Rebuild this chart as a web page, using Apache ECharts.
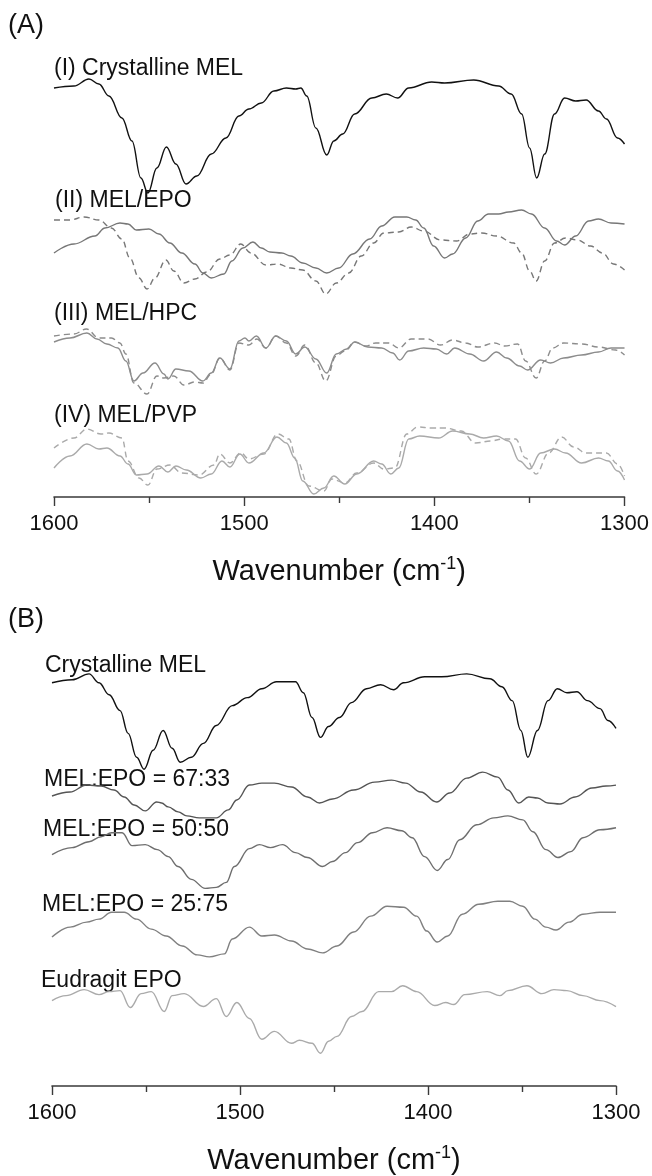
<!DOCTYPE html>
<html>
<head>
<meta charset="utf-8">
<script src="https://cdn.jsdelivr.net/npm/echarts@6/dist/echarts.min.js"></script>
<style>
html,body{margin:0;padding:0;background:#fff;}
#chart{width:652px;height:1176px;}
</style>
</head>
<body>
<div id="chart"></div>
<script>
// Wavenumber axis ticks
const xTicks = [1600, 1500, 1400, 1300];

// ---- Panel A (arbitrary offset intensity units) ----
const crystA = [[1600,409],[1589.5,411],[1581.6,418],[1576.4,413],[1571.1,401],[1564.3,379],[1559.0,356],[1554.3,319],[1550.6,304],[1545.9,329],[1540.9,350],[1535.9,333],[1530.6,313],[1524.9,321],[1517.3,343],[1509.6,359],[1502.8,381],[1497.5,388],[1491.0,394],[1484.4,406],[1477.8,409],[1472.9,408],[1470.2,409],[1467.1,401],[1462.3,369],[1456.6,342],[1452.9,356],[1448.2,363],[1441.9,383],[1432.9,399],[1425.3,403],[1419.3,399],[1413.5,409],[1401.4,415],[1394.6,414],[1379.3,417],[1366.2,411],[1359.6,403],[1354.1,383],[1349.9,349],[1346.2,319],[1342.0,343],[1336.8,383],[1331.5,399],[1325.7,396],[1320.2,397],[1313.7,386],[1309.5,378],[1303.7,359],[1300,353]];

const epoA = [[1600,244],[1589.5,253],[1578.5,261],[1573.2,269],[1565.3,274],[1561.1,273],[1556.7,267],[1550.1,268],[1544.8,263],[1539.1,254],[1532.8,244],[1525.9,233],[1521.7,224],[1517.3,219],[1510.7,223],[1506.5,236],[1500.7,249],[1495.4,255],[1491.0,249],[1486.5,245],[1480.2,244],[1475.5,241],[1469.2,234],[1462.3,229],[1456.6,224],[1450.3,229],[1442.9,243],[1434.0,258],[1427.7,271],[1420.8,280],[1414.5,280],[1409.8,277],[1405.6,269],[1400.4,251],[1394.6,239],[1390.4,243],[1383.5,259],[1377.2,276],[1371.5,283],[1366.2,283],[1361.0,285],[1354.1,287],[1348.9,283],[1342.0,269],[1335.7,256],[1331.5,252],[1325.7,261],[1318.9,276],[1313.7,278],[1307.1,274],[1300,273]];

const epoRefA = [[1600,277],[1591.6,277],[1584.2,280],[1576.4,277],[1569.8,269],[1564.3,258],[1560.1,239],[1555.3,219],[1551.1,208],[1546.9,219],[1541.2,237],[1537.0,226],[1531.7,214],[1525.9,218],[1519.6,225],[1512.8,238],[1507.5,242],[1501.8,253],[1496.5,244],[1488.6,232],[1482.3,233],[1475.5,229],[1469.2,227],[1462.3,216],[1457.1,203],[1451.6,214],[1445.0,224],[1438.4,241],[1431.9,254],[1426.6,264],[1418.7,265],[1412.2,270],[1405.6,266],[1396.7,257],[1388.3,256],[1381.4,263],[1375.1,264],[1367.3,261],[1358.3,254],[1354.1,244],[1349.9,226],[1346.5,216],[1342.0,236],[1336.8,254],[1331.0,259],[1324.7,257],[1317.9,251],[1311.6,244],[1305.8,233],[1300,227]];

const hpcA = [[1600,155],[1591.6,159],[1582.7,164],[1577.4,158],[1572.2,153],[1566.4,149],[1562.2,136],[1558.0,116],[1553.2,124],[1546.9,134],[1542.2,123],[1540.1,118],[1535.9,128],[1529.1,126],[1521.7,116],[1517.3,124],[1512.8,139],[1507.5,128],[1502.8,156],[1499.6,159],[1497.5,156],[1493.6,161],[1488.6,149],[1483.4,161],[1477.8,156],[1472.9,143],[1468.1,150],[1462.3,138],[1456.6,124],[1451.6,143],[1446.1,148],[1441.9,155],[1435.0,150],[1427.7,149],[1421.9,144],[1418.2,137],[1413.5,146],[1405.6,149],[1399.0,148],[1393.5,143],[1389.3,149],[1381.4,143],[1374.1,136],[1367.3,145],[1362.0,139],[1355.2,131],[1351.0,127],[1344.1,137],[1338.9,134],[1332.0,139],[1322.6,142],[1313.7,145],[1307.1,149],[1300,149]];

const hpcRefA = [[1600,161],[1589.5,163],[1582.9,168],[1576.4,159],[1569.8,159],[1565.3,154],[1562.2,143],[1558.0,114],[1551.1,103],[1545.9,121],[1542.2,119],[1537.0,121],[1531.7,112],[1525.9,115],[1521.7,114],[1517.3,123],[1512.8,139],[1507.5,127],[1502.8,154],[1497.5,152],[1493.3,158],[1488.6,149],[1483.4,161],[1477.8,154],[1472.9,141],[1468.1,152],[1462.3,134],[1457.1,116],[1451.6,141],[1447.1,146],[1441.9,155],[1436.1,151],[1430.8,154],[1424.0,154],[1418.7,149],[1412.2,158],[1403.5,158],[1396.7,152],[1390.4,157],[1383.5,154],[1377.2,150],[1368.3,154],[1363.1,151],[1356.2,153],[1352.0,136],[1346.5,119],[1342.0,136],[1337.8,149],[1332.0,154],[1322.6,153],[1313.7,150],[1304.7,147],[1300,142]];

const pvpA = [[1600,29],[1591.6,41],[1582.7,53],[1576.4,48],[1572.2,49],[1565.3,41],[1561.1,33],[1556.7,22],[1551.1,23],[1544.8,31],[1540.1,25],[1535.9,31],[1530.4,27],[1522.8,19],[1517.3,23],[1511.7,36],[1507.5,30],[1502.3,43],[1497.5,34],[1489.7,44],[1482.8,60],[1477.8,54],[1473.4,39],[1469.2,16],[1463.4,3],[1458.1,9],[1452.9,21],[1447.1,13],[1440.8,23],[1431.9,36],[1427.7,33],[1422.9,23],[1418.7,29],[1413.5,58],[1407.7,61],[1397.7,59],[1390.4,66],[1381.4,63],[1374.1,59],[1367.3,61],[1361.0,56],[1355.2,36],[1349.9,28],[1344.1,44],[1336.8,48],[1331.0,44],[1322.6,34],[1313.7,39],[1308.5,36],[1303.7,26],[1300,17]];

const pvpRefA = [[1600,49],[1589.5,59],[1582.7,68],[1575.3,63],[1571.1,64],[1564.3,59],[1561.1,36],[1555.3,19],[1550.6,12],[1545.9,28],[1539.1,32],[1532.8,24],[1523.8,22],[1515.9,32],[1512.8,43],[1507.5,34],[1501.8,44],[1497.5,38],[1489.7,43],[1482.3,63],[1476.5,58],[1472.3,36],[1466.0,11],[1458.1,6],[1453.9,18],[1447.1,14],[1440.8,24],[1431.9,34],[1426.6,28],[1420.8,29],[1414.5,63],[1408.8,70],[1401.4,69],[1394.6,69],[1385.9,66],[1378.3,54],[1370.4,56],[1364.1,58],[1357.3,58],[1352.0,39],[1346.5,23],[1339.9,44],[1333.1,60],[1326.8,50],[1320.2,44],[1309.5,44],[1303.7,33],[1300,21]];

// ---- Panel B ----
const crystB = [[1600,406],[1589.3,409],[1580.3,415],[1575.0,406],[1569.6,394],[1563.8,378],[1559.5,355],[1555.0,331],[1551.0,319],[1546.2,338],[1540.9,358],[1536.1,340],[1531.8,326],[1525.9,331],[1519.5,345],[1512.6,363],[1504.1,383],[1496.1,391],[1488.4,400],[1480.6,407],[1475.0,407],[1470.5,407],[1466.3,396],[1461.7,371],[1457.2,351],[1452.9,362],[1447.1,371],[1440.7,386],[1432.7,400],[1425.2,404],[1418.3,399],[1413.0,406],[1401.8,412],[1392.7,412],[1379.4,415],[1367.1,410],[1360.7,402],[1355.2,388],[1350.6,358],[1346.9,331],[1341.8,358],[1336.2,388],[1331.2,400],[1326.1,396],[1320.8,397],[1315.2,388],[1308.5,380],[1304.3,368],[1300,360]];

const mix6733 = [[1600,292],[1590.4,296],[1581.6,303],[1573.9,302],[1567.0,298],[1561.6,291],[1556.3,283],[1550.4,277],[1544.3,286],[1541.7,285],[1538.2,281],[1532.9,276],[1528.3,272],[1521.7,270],[1512.6,270],[1506.2,278],[1501.7,288],[1495.0,303],[1488.4,305],[1481.7,305],[1472.6,301],[1464.1,291],[1457.7,285],[1450.8,289],[1439.6,298],[1428.4,306],[1419.4,308],[1411.9,305],[1403.9,296],[1395.4,286],[1388.5,295],[1379.4,310],[1370.9,316],[1362.9,311],[1357.5,298],[1351.7,285],[1346.4,291],[1341.8,290],[1336.2,285],[1329.8,284],[1321.8,291],[1312.8,300],[1305.3,302],[1300,303]];

const mix5050 = [[1600,233],[1589.3,240],[1580.3,246],[1573.9,251],[1568.3,255],[1562.7,255],[1557.4,242],[1550.4,243],[1544.0,238],[1538.2,231],[1532.9,221],[1525.9,208],[1518.5,199],[1512.6,200],[1507.3,205],[1503.0,221],[1495.0,239],[1489.7,243],[1483.8,240],[1477.4,243],[1470.5,235],[1464.1,230],[1456.1,221],[1450.8,226],[1443.9,235],[1437.5,245],[1429.5,255],[1421.8,260],[1414.0,257],[1408.4,250],[1401.8,231],[1395.1,217],[1389.5,228],[1383.1,248],[1374.1,263],[1365.0,270],[1357.5,272],[1349.6,268],[1344.2,256],[1337.3,238],[1330.9,230],[1324.0,236],[1317.6,250],[1308.5,258],[1300,260]];

const mix2575 = [[1600,150],[1590.4,160],[1581.6,165],[1575.0,168],[1568.3,175],[1561.6,175],[1555.0,168],[1547.2,158],[1539.3,151],[1530.7,141],[1522.7,132],[1516.3,130],[1508.3,133],[1504.1,148],[1495.0,160],[1488.4,151],[1481.7,152],[1472.6,146],[1464.1,138],[1456.1,134],[1448.4,141],[1439.6,155],[1430.5,171],[1421.8,181],[1413.0,180],[1406.0,171],[1400.7,156],[1395.1,145],[1389.5,151],[1381.8,173],[1373.0,183],[1362.9,186],[1356.5,186],[1349.6,181],[1343.2,168],[1337.3,160],[1331.9,157],[1325.0,165],[1317.6,173],[1308.5,175],[1300,175]];

const eudB = [[1600,86],[1592.5,91],[1582.9,97],[1575.0,92],[1569.6,95],[1563.8,96],[1558.4,79],[1552.6,93],[1547.2,95],[1540.3,75],[1536.1,91],[1529.7,93],[1519.5,80],[1512.6,88],[1507.3,70],[1501.7,84],[1495.0,68],[1488.4,47],[1481.7,55],[1472.6,43],[1468.4,46],[1461.7,43],[1457.2,33],[1452.9,45],[1448.4,50],[1440.7,70],[1435.1,75],[1426.3,95],[1419.4,95],[1413.5,101],[1406.0,95],[1396.4,81],[1390.6,84],[1386.3,82],[1380.5,92],[1368.5,95],[1361.8,91],[1357.5,96],[1347.4,101],[1339.4,93],[1333.0,97],[1326.1,96],[1317.6,91],[1308.5,86],[1300,80]];

const FONT = '"Liberation Sans", Arial, sans-serif';

function xAxisCfg(gridIndex) {
  return {
    type: 'value', gridIndex: gridIndex, inverse: true,
    min: 1300, max: 1600, interval: 100,
    axisLine: { show: true, lineStyle: { color: '#3a3a3a', width: 1.6 } },
    axisTick: { show: true, length: 9, lineStyle: { color: '#3a3a3a', width: 1.4 } },
    minorTick: { show: true, splitNumber: 2, length: 6, lineStyle: { color: '#3a3a3a', width: 1.4 } },
    splitLine: { show: false },
    axisLabel: { fontSize: 22, fontFamily: FONT, color: '#111', margin: 16,
      formatter: function (v) { return xTicks.indexOf(v) >= 0 ? String(v) : ''; } },
    name: 'Wavenumber (cm{sup|-1})',
    nameLocation: 'middle', nameGap: 58,
    nameTextStyle: { fontSize: 29, fontFamily: FONT, color: '#111',
      rich: { sup: { fontSize: 18, fontFamily: FONT, color: '#111', verticalAlign: 'top', padding: [0, 0, 15, 0] } } }
  };
}
function yAxisCfg(gridIndex) {
  return { type: 'value', gridIndex: gridIndex, min: 0, max: 440, show: false,
    splitLine: { show: false } };
}
function line(data, xi, color, dashed, width) {
  return {
    type: 'line', xAxisIndex: xi, yAxisIndex: xi, data: data,
    showSymbol: false, symbol: 'none', smooth: 0.4, smoothMonotone: 'x',
    lineStyle: { color: color, width: width || 1.4, type: dashed ? [6, 4] : 'solid' },
    silent: true, animation: false
  };
}
function label(text, x, y, size) {
  return { type: 'text', left: x, top: y,
    style: { text: text, fontSize: size || 23, fontFamily: FONT, fill: '#111' } };
}

const chart = echarts.init(document.getElementById('chart'), null, { renderer: 'canvas' });
chart.setOption({
  backgroundColor: '#fff',
  animation: false,
  grid: [
    { left: 54, width: 572, top: 57, height: 440 },
    { left: 52, width: 564, top: 649, height: 440 }
  ],
  xAxis: [xAxisCfg(0), xAxisCfg(1)],
  yAxis: [yAxisCfg(0), yAxisCfg(1)],
  series: [
    line(crystA, 0, '#111', false),
    line(epoRefA, 0, '#777', true),
    line(epoA, 0, '#777', false),
    line(hpcRefA, 0, '#8c8c8c', true),
    line(hpcA, 0, '#8c8c8c', false),
    line(pvpRefA, 0, '#aaa', true),
    line(pvpA, 0, '#aaa', false),
    line(crystB, 1, '#111', false),
    line(mix6733, 1, '#555', false),
    line(mix5050, 1, '#6e6e6e', false),
    line(mix2575, 1, '#808080', false),
    line(eudB, 1, '#aaa', false)
  ],
  graphic: [
    label('(A)', 8, 12, 27),
    label('(I) Crystalline MEL', 54, 57),
    label('(II) MEL/EPO', 55, 189),
    label('(III) MEL/HPC', 54, 302),
    label('(IV) MEL/PVP', 54, 404),
    label('(B)', 8, 606, 27),
    label('Crystalline MEL', 45, 654),
    label('MEL:EPO = 67:33', 44, 768),
    label('MEL:EPO = 50:50', 43, 818),
    label('MEL:EPO = 25:75', 42, 893),
    label('Eudragit EPO', 41, 969)
  ]
});
</script>
</body>
</html>
